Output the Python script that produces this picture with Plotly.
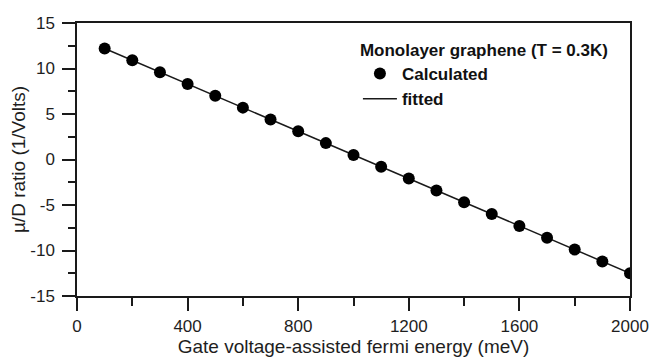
import plotly.graph_objects as go

energy = [100, 200, 300, 400, 500, 600, 700, 800, 900, 1000,
          1100, 1200, 1300, 1400, 1500, 1600, 1700, 1800, 1900, 2000]
ratio_calc = [12.2, 10.9, 9.6, 8.3, 7.0, 5.7, 4.4, 3.1, 1.8, 0.5,
              -0.8, -2.1, -3.4, -4.7, -6.0, -7.3, -8.6, -9.9, -11.2, -12.5]
fit_x = [100, 2000]
fit_y = [12.2, -12.5]

x_ticks = [0, 400, 800, 1200, 1600, 2000]
x_minor = [200, 600, 1000, 1400, 1800]
y_ticks = [-15, -10, -5, 0, 5, 10, 15]
y_ticktext = ["-15", "-10", "-5", "0", "5", "10", "15"]
y_minor = [-12.5, -7.5, -2.5, 2.5, 7.5, 12.5]

ink = "#1a1a1a"
fig = go.Figure()
fig.add_trace(go.Scatter(x=fit_x, y=fit_y, mode="lines", name="<b>fitted</b>",
                         line=dict(color=ink, width=1.5)))
fig.add_trace(go.Scatter(x=energy, y=ratio_calc, mode="markers", name="<b>Calculated</b>",
                         marker=dict(color="black", size=12)))

fig.update_layout(
    width=651, height=358,
    margin=dict(l=77, r=21, t=23, b=62),
    paper_bgcolor="white", plot_bgcolor="white",
    font=dict(family="Liberation Sans, Arial, sans-serif", color="#1e1e1e", size=17),
    showlegend=True,
    legend=dict(
        title=dict(text="<b>Monolayer graphene (T = 0.3K)</b>", side="top",
                   font=dict(size=17, color="#111")),
        x=0.508, y=0.96, xanchor="left", yanchor="top",
        font=dict(size=17, color="#111"),
        traceorder="reversed",
        bgcolor="rgba(0,0,0,0)", tracegroupgap=0, itemwidth=34,
    ),
    xaxis=dict(
        range=[0, 2000], tickvals=x_ticks, automargin=False,
        ticks="outside", ticklen=13, tickwidth=1.5, tickcolor=ink,
        minor=dict(tickvals=x_minor, ticks="outside",
                   ticklen=8, tickwidth=1.5, tickcolor=ink),
        showline=True, linecolor=ink, linewidth=1.5, mirror=True,
        showgrid=False, zeroline=False,
        title=dict(text="Gate voltage-assisted fermi energy (meV)", font=dict(size=19), standoff=2),
        tickfont=dict(size=17), ticklabelstandoff=1,
    ),
    yaxis=dict(
        range=[-15, 15], tickvals=y_ticks, ticktext=y_ticktext, automargin=False,
        ticks="outside", ticklen=13, tickwidth=1.5, tickcolor=ink,
        minor=dict(tickvals=y_minor, ticks="outside",
                   ticklen=7, tickwidth=1.5, tickcolor=ink),
        showline=True, linecolor=ink, linewidth=1.5, mirror=True,
        showgrid=False, zeroline=False,
        title=dict(text="µ/D ratio (1/Volts)", font=dict(size=19), standoff=0),
        tickfont=dict(size=17), ticklabelstandoff=4,
    ),
)

fig.write_html("out.html")
